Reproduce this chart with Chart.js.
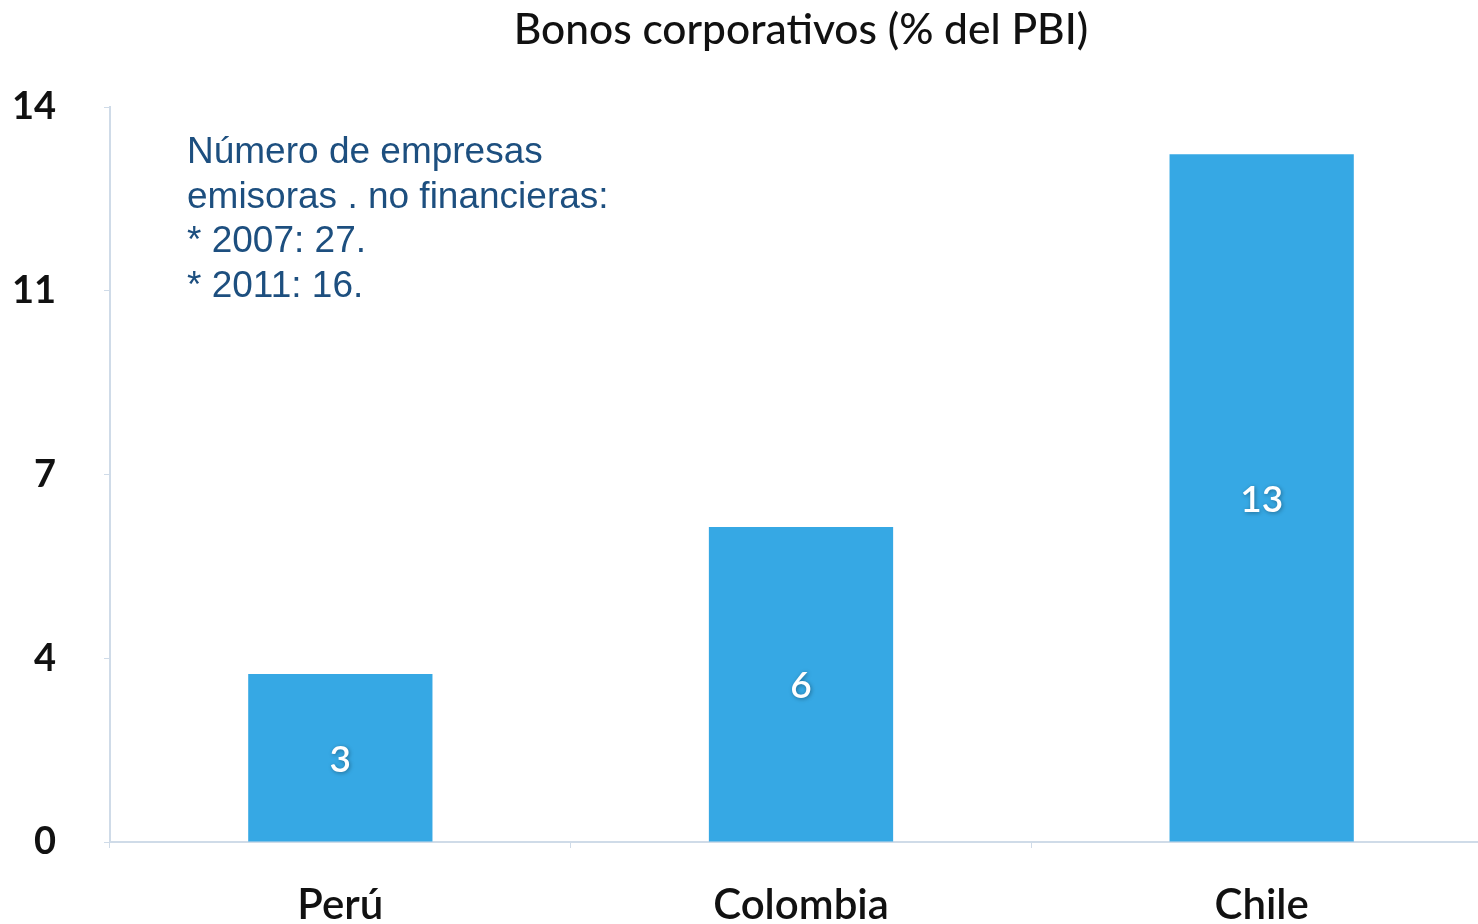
<!DOCTYPE html>
<html>
<head>
<meta charset="utf-8">
<script src="https://cdn.jsdelivr.net/npm/chart.js@4/dist/chart.umd.min.js"></script>
<style>
  html, body { margin: 0; padding: 0; background: #fff; overflow: hidden; }
  #wrap { position: relative; width: 1478px; height: 924px; overflow: hidden; }
  #note {
    position: absolute; left: 187px; top: 129px;
    font-family: "Liberation Sans", Arial, sans-serif; font-size: 37px; line-height: 44.5px;
    color: #1d4f7f; white-space: pre;
  }
</style>
</head>
<body>
<div id="wrap">
  <canvas id="chart" width="1492" height="924"></canvas>
  <div id="note">Número de empresas
emisoras . no financieras:
* 2007: 27.
* 2011: 16.</div>
</div>
<script>
const countries = ['Perú', 'Colombia', 'Chile'];
const bondsPctGdp = [3.2, 6.0, 13.1];
const barLabels = ['3', '6', '13'];
const yTicks = [0, 3.5, 7, 10.5, 14];
const chartTitle = 'Bonos corporativos (% del PBI)';

const BAR_COLOR = '#36a8e4';
const AXIS_COLOR = '#cfdbe8';
const FONT = 'Lato, "Open Sans", sans-serif';

// title centred over the plot area rather than the whole canvas
const plotTitle = {
  id: 'plotTitle',
  afterDraw(chart) {
    const { ctx, chartArea } = chart;
    ctx.save();
    ctx.font = '500 42.5px ' + FONT;
    ctx.fillStyle = '#111';
    ctx.textAlign = 'center';
    ctx.textBaseline = 'middle';
    ctx.fillText(chartTitle, (chartArea.left + chartArea.right) / 2, 30);
    ctx.restore();
  }
};

// white value labels centred in each bar
const barValueLabels = {
  id: 'barValueLabels',
  afterDatasetsDraw(chart) {
    const ctx = chart.ctx;
    const meta = chart.getDatasetMeta(0);
    ctx.save();
    ctx.font = '600 37px ' + FONT;
    ctx.fillStyle = '#ffffff';
    ctx.textAlign = 'center';
    ctx.textBaseline = 'middle';
    ctx.shadowColor = 'rgba(0,0,0,0.35)';
    ctx.shadowBlur = 4;
    ctx.shadowOffsetX = 1;
    ctx.shadowOffsetY = 1;
    meta.data.forEach((bar, i) => {
      ctx.fillText(barLabels[i], bar.x, (bar.y + bar.base) / 2 + 2);
    });
    ctx.restore();
  }
};

new Chart(document.getElementById('chart'), {
  type: 'bar',
  data: {
    labels: countries,
    datasets: [{
      data: bondsPctGdp,
      backgroundColor: BAR_COLOR,
      barPercentage: 0.4,
      categoryPercentage: 1,
    }],
  },
  options: {
    responsive: false,
    animation: false,
    layout: { padding: { top: 107, left: 0, right: 0, bottom: 0 } },
    plugins: {
      legend: { display: false },
      tooltip: { enabled: false },
      title: { display: false },
    },
    scales: {
      x: {
        afterFit: s => { s.height = 82; },
        grid: { display: true, drawOnChartArea: false, color: AXIS_COLOR, tickLength: 6, offset: true },
        border: { color: AXIS_COLOR, width: 2 },
        ticks: { color: '#111', padding: 32, font: { family: FONT, size: 42, weight: '600' } },
      },
      y: {
        min: 0,
        max: 14,
        afterFit: s => { s.width = 110; },
        afterBuildTicks: s => { s.ticks = yTicks.map(v => ({ value: v })); },
        grid: { display: true, drawOnChartArea: false, color: AXIS_COLOR, tickLength: 6 },
        border: { color: AXIS_COLOR, width: 2 },
        ticks: {
          color: '#111',
          padding: 48,
          font: { family: FONT, size: 38, weight: 'bold' },
          callback: v => String(Math.round(v)),
        },
      },
    },
  },
  plugins: [barValueLabels, plotTitle],
});
</script>
</body>
</html>
